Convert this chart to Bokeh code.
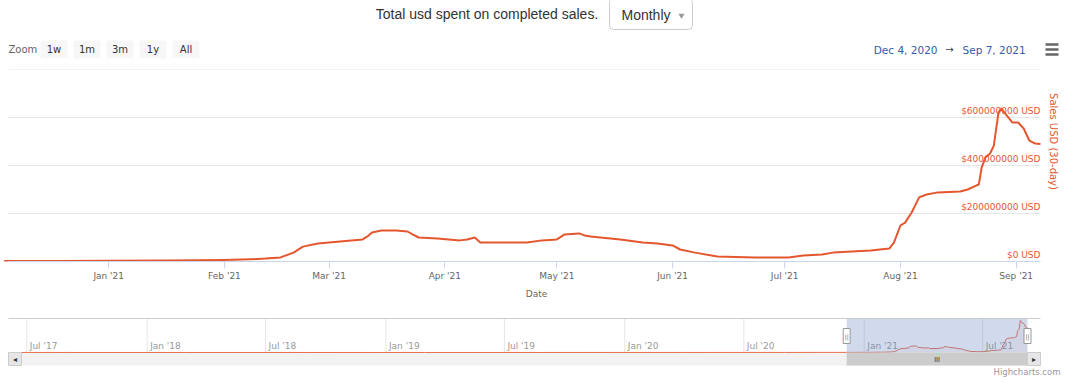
from datetime import datetime, timedelta
import math
import pandas as pd
from bokeh.plotting import figure
from bokeh.models import Range1d, DatetimeTickFormatter, MonthsTicker
from bokeh.layouts import column
from bokeh.embed import file_html
from bokeh.resources import INLINE
from bokeh.core.properties import value

# ---------------- data ----------------
sale_dates = [
    "2020-12-04", "2020-12-05", "2020-12-19", "2021-01-01", "2021-01-17", "2021-02-01",
    "2021-02-08", "2021-02-12", "2021-02-16", "2021-02-19 12:00", "2021-02-22", "2021-02-26",
    "2021-03-04", "2021-03-10", "2021-03-11 14:00", "2021-03-12 12:00", "2021-03-15", "2021-03-19",
    "2021-03-22", "2021-03-23 12:00", "2021-03-25", "2021-03-30", "2021-04-05", "2021-04-07",
    "2021-04-09", "2021-04-10 12:00", "2021-04-23", "2021-04-27", "2021-05-01", "2021-05-03",
    "2021-05-07", "2021-05-08 12:00", "2021-05-10", "2021-05-18", "2021-05-24", "2021-05-28",
    "2021-06-01", "2021-06-03", "2021-06-07", "2021-06-13", "2021-06-23", "2021-07-02",
    "2021-07-06", "2021-07-11", "2021-07-14", "2021-07-24", "2021-07-29", "2021-07-30 06:00",
    "2021-08-01", "2021-08-02 06:00", "2021-08-04", "2021-08-06", "2021-08-08", "2021-08-11",
    "2021-08-17", "2021-08-19", "2021-08-22", "2021-08-22 18:00", "2021-08-23 18:00", "2021-08-25",
    "2021-08-26", "2021-08-27 06:00", "2021-08-28", "2021-08-29", "2021-08-31", "2021-09-01 12:00",
    "2021-09-03", "2021-09-04 12:00", "2021-09-06", "2021-09-07 12:00",
]
sales_musd = [
    2, 2, 2, 3, 4, 6, 9, 12, 17, 37, 62, 75, 83, 92, 108, 121, 129, 129, 125, 112,
    100, 96, 88, 92, 100, 79, 79, 88, 92, 112, 117, 108, 104, 92, 79, 75, 67, 50, 37, 21,
    17, 17, 25, 29, 37, 46, 54, 79, 150, 162, 204, 267, 279, 288, 292, 300, 321, 392, 433, 450,
    483, 621, 637, 617, 579, 579, 554, 504, 492, 490,
]
history_dates = ["2017-06-23", "2017-07-01", "2017-09-01", "2018-03-01", "2018-09-01",
                 "2019-03-01", "2019-09-01", "2020-03-01", "2020-09-01"]
history_musd = [0, 1.2, 0.4, 0.5, 0.3, 0.4, 0.6, 0.8, 1.5]

y_ticks = [0, 200e6, 400e6, 600e6]
y_tick_labels = ["$0 USD", "$200000000 USD", "$400000000 USD", "$600000000 USD"]
grid_ticks = [0, 200e6, 400e6, 600e6, 800e6]
y_max = 800e6

nav_tick_dates = ["2017-07-01", "2018-01-01", "2018-07-01", "2019-01-01", "2019-07-01",
                  "2020-01-01", "2020-07-01", "2021-01-01", "2021-07-01"]
nav_tick_labels = ["Jul '17", "Jan '18", "Jul '18", "Jan '19", "Jul '19",
                   "Jan '20", "Jul '20", "Jan '21", "Jul '21"]

zoom_buttons = ["1w", "1m", "3m", "1y", "All"]
range_labels = ["Dec 4, 2020", "Sep 7, 2021"]
title_text = "Total usd spent on completed sales."
period_text = "Monthly"
y_title = "Sales USD (30-day)"
x_title = "Date"

# ---------------- styling ----------------
ORANGE = "#e4572e"
HC_FONT = value("DejaVu Sans")
W = 1072
PL, PR = 8, 1040          # plot area left / right (px)

sx = list(pd.to_datetime(sale_dates, format="mixed"))
sy = [v * 1e6 for v in sales_musd]
view_start = datetime(2020, 12, 5, 4)
view_end = datetime(2021, 9, 7, 12)
vdays = (view_end - view_start).total_seconds() / 86400.0
vppd = (PR - PL) / vdays
main_x0 = view_start - timedelta(days=PL / vppd)
main_x1 = view_end + timedelta(days=(W - PR) / vppd)


def blank(fig):
    fig.outline_line_color = None
    fig.background_fill_color = "white"
    fig.border_fill_color = "white"


# ---------------- header ----------------
HH = 69
hdr = figure(width=W, height=HH, x_range=Range1d(0, W), y_range=Range1d(HH, 0),
             output_backend="svg", toolbar_location=None,
             x_axis_location=None, y_axis_location=None,
             min_border_left=0, min_border_right=0, min_border_top=0, min_border_bottom=0)
blank(hdr)
hdr.grid.visible = False

hdr.text(x=[486.5], y=[13.5], text=[title_text], text_align="center", text_baseline="middle",
         text_font=value("Liberation Sans"), text_font_size="14px", text_color="#333333")
hdr.quad(left=[609], right=[692], top=[-2], bottom=[29], fill_color="white",
         line_color="#cccccc", line_width=1, border_radius=4)
hdr.text(x=[621], y=[14], text=[period_text], text_align="left", text_baseline="middle",
         text_font=value("Liberation Sans"), text_font_size="14px", text_color="#333333")
hdr.scatter(x=[681], y=[15], marker="inverted_triangle", size=6, color="#999999", line_color=None)

hdr.text(x=[8], y=[49], text=["Zoom"], text_align="left", text_baseline="middle",
         text_font=HC_FONT, text_font_size="10px", text_color="#666666")
bx = [40 + 33 * i for i in range(len(zoom_buttons))]
hdr.quad(left=bx, right=[b + 27 for b in bx], top=[40] * len(bx), bottom=[58] * len(bx),
         fill_color="#f7f7f7", line_color=None, border_radius=2)
hdr.text(x=[b + 13.5 for b in bx], y=[49] * len(bx), text=zoom_buttons, text_align="center",
         text_baseline="middle", text_font=HC_FONT, text_font_size="10px", text_color="#333333")

hdr.text(x=[937], y=[49], text=[range_labels[0]], text_align="right", text_baseline="middle",
         text_font=HC_FONT, text_font_size="10.5px", text_color="#335cad")
hdr.text(x=[949], y=[49], text=["\u2192"], text_align="center", text_baseline="middle",
         text_font=HC_FONT, text_font_size="10px", text_color="#444444")
hdr.text(x=[962], y=[49], text=[range_labels[1]], text_align="left", text_baseline="middle",
         text_font=HC_FONT, text_font_size="10.5px", text_color="#335cad")
hdr.segment(x0=[1045] * 3, x1=[1058] * 3, y0=[44, 49, 54], y1=[44, 49, 54],
            line_color="#666666", line_width=2.5)

# ---------------- main chart ----------------
main = figure(width=W, height=239, x_axis_type="datetime",
              x_range=Range1d(main_x0, main_x1), y_range=Range1d(0, y_max),
              output_backend="svg", toolbar_location=None, y_axis_location=None,
              min_border_left=0, min_border_right=0, min_border_top=0, min_border_bottom=47)
blank(main)
main.grid.visible = False

main.segment(x0=[view_start] * len(grid_ticks), x1=[view_end] * len(grid_ticks),
             y0=grid_ticks, y1=grid_ticks, line_color="#e6e6e6", line_width=1)

xa = main.xaxis[0]
xa.bounds = (view_start, view_end)
xa.ticker = MonthsTicker(months=list(range(12)))
xa.formatter = DatetimeTickFormatter(months="%b '%y", days="%b '%y")
xa.axis_line_color = "#ccd6eb"
xa.major_tick_line_color = "#ccd6eb"
xa.major_tick_out = 7
xa.major_tick_in = 0
xa.minor_tick_out = 0
xa.minor_tick_in = 0
xa.major_label_standoff = 2
xa.major_label_text_font = "DejaVu Sans"
xa.major_label_text_font_size = "9px"
xa.major_label_text_color = "#666666"
xa.axis_label = x_title
xa.axis_label_text_font = "DejaVu Sans"
xa.axis_label_text_font_style = "normal"
xa.axis_label_text_font_size = "9px"
xa.axis_label_text_color = "#666666"
xa.axis_label_standoff = 5

main.text(x=[view_end] * len(y_ticks), y=y_ticks, text=y_tick_labels, text_align="right",
          text_baseline="bottom", x_offset=0, y_offset=-2, text_font=HC_FONT,
          text_font_size="9px", text_color=ORANGE)
main.text(x=[view_end], y=[y_ticks[-1] / 2 + y_ticks[1] / 2 * 0 + 200e6], text=[y_title],
          angle=-math.pi / 2, text_align="center", text_baseline="middle", x_offset=13,
          text_font=HC_FONT, text_font_size="10px", text_color=ORANGE)
main.line(x=sx, y=sy, line_color=ORANGE, line_width=2, line_join="round")

# ---------------- navigator ----------------
NH = 72
NL, NR = 21, 1027
nx = list(pd.to_datetime(history_dates)) + sx
ny = [v * 1e6 for v in history_musd] + sy
nav_start, nav_end = nx[0], nx[-1]
days = (nav_end - nav_start).total_seconds() / 86400.0
ppd = (NR - NL) / days
nav_x0 = (nav_start - timedelta(days=NL / ppd)).to_pydatetime()
nav_x1 = (nav_end + timedelta(days=(W - NR) / ppd)).to_pydatetime()
upx = max(ny) * 1.06 / 34.0
nav = figure(width=W, height=NH, x_axis_type="datetime",
             x_range=Range1d(nav_x0, nav_x1), y_range=Range1d(-(NH - 44) * upx, 44 * upx),
             output_backend="svg", toolbar_location=None,
             x_axis_location=None, y_axis_location=None,
             min_border_left=0, min_border_right=0, min_border_top=0, min_border_bottom=0)
blank(nav)
nav.grid.visible = False
nav.extra_x_ranges = {"px": Range1d(0, W)}
nav.extra_y_ranges = {"py": Range1d(NH, 0)}

nav.quad(left=[PL], right=[PR], top=[44], bottom=[57], fill_color="#f2f2f2", line_color=None,
         x_range_name="px", y_range_name="py")
ntx = list(pd.to_datetime(nav_tick_dates))
nav.segment(x0=ntx, x1=ntx, y0=[10] * len(ntx), y1=[44] * len(ntx), line_color="#e6e6e6",
            line_width=1, y_range_name="py")
nav.varea(x=nx, y1=[0] * len(ny), y2=ny, fill_color=ORANGE, fill_alpha=0.05)
nav.line(x=nx, y=ny, line_color=ORANGE, line_width=1, line_alpha=0.85)
nav.text(x=ntx, y=[37] * len(ntx), text=nav_tick_labels, text_align="left", text_baseline="middle",
         x_offset=3, text_font=HC_FONT, text_font_size="9px", text_color="#999999",
         y_range_name="py")
nav.quad(left=[view_start], right=[view_end], top=[10], bottom=[44], fill_color="#6685c2",
         fill_alpha=0.3, line_color=None, y_range_name="py")
nav.segment(x0=[PL], x1=[PR], y0=[10], y1=[10], line_color="#cccccc", line_width=1,
            x_range_name="px", y_range_name="py")
nav.quad(left=[view_start], right=[view_end], top=[44], bottom=[57], fill_color="#cccccc",
         line_color=None, y_range_name="py")
mid = view_start + (view_end - view_start) / 2
nav.text(x=[mid], y=[50.5], text=["III"], text_align="center", text_baseline="middle",
         text_font=value("Liberation Sans"), text_font_size="7px", text_color="#333333",
         y_range_name="py")
nav.quad(left=[PL, NR], right=[NL, PR], top=[44, 44], bottom=[57, 57], fill_color="#e6e6e6",
         line_color="#cccccc", x_range_name="px", y_range_name="py")
nav.text(x=[(PL + NL) / 2, (NR + PR) / 2], y=[50.5, 50.5], text=["\u25c2", "\u25b8"],
         text_align="center", text_baseline="middle", text_font=HC_FONT, text_font_size="8px",
         text_color="#333333", x_range_name="px", y_range_name="py")
nav.rect(x=[view_start, view_end], y=[27.5, 27.5], width=7, height=15, width_units="screen",
         height_units="screen", fill_color="white", line_color="#999999", y_range_name="py")
nav.text(x=[view_start, view_end], y=[27.5, 27.5], text=["||", "||"], text_align="center",
         text_baseline="middle", text_font=HC_FONT, text_font_size="6px", text_color="#666666",
         y_range_name="py")
nav.text(x=[1060], y=[63], text=["Highcharts.com"], text_align="right", text_baseline="middle",
         text_font=HC_FONT, text_font_size="8.5px", text_color="#999999",
         x_range_name="px", y_range_name="py")

layout = column(hdr, main, nav, spacing=0)
open("out.html", "w").write(file_html(layout, INLINE))
